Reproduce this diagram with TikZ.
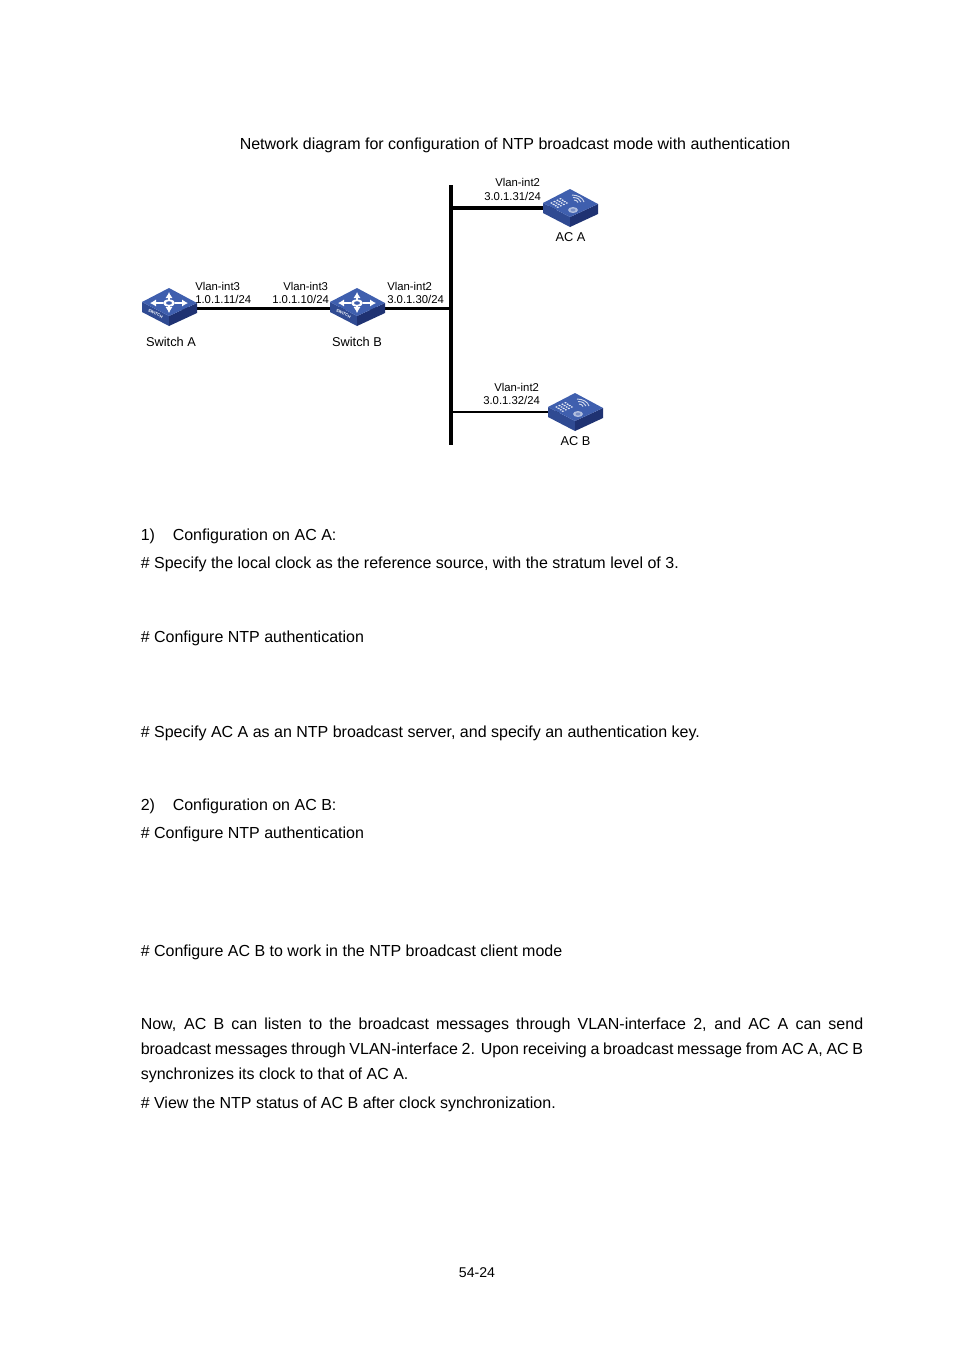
\documentclass[tikz,border=0pt]{standalone}
\usepackage{fontspec}
\setmainfont{Liberation Sans}
\usetikzlibrary{arrows.meta}
\definecolor{devtop}{HTML}{3F5FAE}
\definecolor{devleft}{HTML}{2F4A92}
\definecolor{devright}{HTML}{1F3272}
\tikzset{
  wire/.style={line width=2.4pt, black},
  thinwire/.style={line width=1.7pt, black},
  devbox/.style={minimum width=54pt, minimum height=14pt, inner sep=0pt},
  ifacelabel/.style={anchor=base west, inner sep=0pt, font=\fontsize{8.5pt}{10pt}\selectfont, align=left},
  devlabel/.style={anchor=base, inner sep=0pt, font=\fontsize{9.6pt}{11pt}\selectfont},
  bodytext/.style={anchor=base west, inner sep=0pt, font=\fontsize{12pt}{14pt}\selectfont},
  pics/devbase/.style={code={
    \fill[devleft] (-27,-5) -- (0,9) -- (0,19) -- (-27,5) -- cycle;
    \fill[devright] (0,9) -- (28,-4) -- (28,6) -- (0,19) -- cycle;
    \fill[devtop] (-27,-5) -- (0,-19) -- (28,-4) -- (0,9) -- cycle;
  }},
  pics/switchicon/.style={code={
    \pic {devbase};
    \foreach \tipx/\tipy in {0/-15, 0/6, -19/-4, 19/-4} {
      \draw[white, line width=1.3pt, -{Latex[length=4.5pt,width=5.5pt]}] (0.3*\tipx,{-4+0.3*(\tipy+4)}) -- (\tipx,\tipy);
    }
    \fill[white] (0,-4) ellipse (6 and 3.6);
    \fill[devtop] (0,-4) ellipse (3 and 1.8);
    \node[rotate=-27, inner sep=0pt, text=white, font=\bfseries\fontsize{3pt}{3pt}\selectfont] (tag) at (-13.5,6.5) {SWITCH};
  }},
  pics/acicon/.style={code={
    \pic {devbase};
    \foreach \i in {0,...,3} {
      \foreach \j in {0,...,3} {
        \fill[white!85!devtop] ({-18.5+\i*3+\j*2.1},{-5-\i*1.4+\j*1.4}) ellipse (1.3 and .8);
      }
    }
    \fill[white!60!devtop] (3,2) ellipse (5 and 3);
    \fill[white!30!devtop] (3,2) ellipse (2.5 and 1.5);
    \draw[white!75!devtop, line width=.7pt] (2,-13) .. controls (8,-13) and (13,-10) .. (14,-6);
    \draw[white!75!devtop, line width=.7pt] (3,-10.5) .. controls (7,-10.5) and (10,-9) .. (11,-6);
    \draw[white!75!devtop, line width=.7pt] (4,-8) .. controls (6,-8) and (7.5,-7) .. (8,-5.5);
  }},
}
\begin{document}
\begin{tikzpicture}[x=0.75pt, y=-0.75pt]
  \useasboundingbox (0,0) rectangle (954,1350);
  % title
  \node[bodytext] (title) at (239.5,149) {Network diagram for configuration of NTP broadcast mode with authentication};
  % devices
  \node[devbox] (swa) at (169,307) {};
  \node[devbox] (swb) at (357,307) {};
  \node[devbox] (aca) at (570,208) {};
  \node[devbox] (acb) at (575,412) {};
  % bus and links
  \coordinate (bustop) at (451,185);
  \coordinate (busbot) at (451,445);
  \coordinate (busa) at (451,208);
  \coordinate (busb) at (451,412);
  \coordinate (busc) at (451,308.5);
  \coordinate (swaport) at (169,308.5);
  \coordinate (swbport) at (357,308.5);
  \draw[wire] (bustop) -- (busbot);
  \draw[wire] (swaport) -- (swbport);
  \draw[wire] (swbport) -- (busc);
  \draw[wire] (busa) -- (aca.center);
  \draw[thinwire] (busb) -- (acb.center);
  \pic (swaicon) at (swa) {switchicon};
  \pic (swbicon) at (swb) {switchicon};
  \pic (acaicon) at (aca) {acicon};
  \pic (acbicon) at (acb) {acicon};
  % device names
  \node[devlabel] (swaname) at (171,346) {Switch A};
  \node[devlabel] (swbname) at (357,346) {Switch B};
  \node[devlabel] (acaname) at (570.5,241) {AC A};
  \node[devlabel] (acbname) at (575.5,445) {AC B};
  % interface labels
  \node[ifacelabel] (ifa1) at (195,290) {Vlan-int3};
  \node[ifacelabel] (ifa2) at (195,303) {1.0.1.11/24};
  \node[ifacelabel] (ifb1) at (283,290) {Vlan-int3};
  \node[ifacelabel] (ifb2) at (272,303) {1.0.1.10/24};
  \node[ifacelabel] (ifc1) at (387,290) {Vlan-int2};
  \node[ifacelabel] (ifc2) at (387,303) {3.0.1.30/24};
  \node[ifacelabel] (ifd1) at (495,186) {Vlan-int2};
  \node[ifacelabel] (ifd2) at (484,200) {3.0.1.31/24};
  \node[ifacelabel] (ife1) at (494,391) {Vlan-int2};
  \node[ifacelabel] (ife2) at (483,404) {3.0.1.32/24};
  % body text
  \node[bodytext] (cfga) at (140.5,540) {1)};
  \node[bodytext] (cfgat) at (172.5,540) {Configuration on AC A:};
  \node[bodytext] (line1) at (140.5,568) {\# Specify the local clock as the reference source, with the stratum level of 3.};
  \node[bodytext] (line2) at (140.5,642) {\# Configure NTP authentication};
  \node[bodytext] (line3) at (140.5,737) {\# Specify AC A as an NTP broadcast server, and specify an authentication key.};
  \node[bodytext] (cfgb) at (140.5,810) {2)};
  \node[bodytext] (cfgbt) at (172.5,810) {Configuration on AC B:};
  \node[bodytext] (line4) at (140.5,838) {\# Configure NTP authentication};
  \node[bodytext] (line5) at (140.5,956) {\# Configure AC B to work in the NTP broadcast client mode};
  \node[bodytext, text width=722.5pt*0.75, align=justify, font=\fontsize{12pt}{18.6pt}\selectfont] (para) at (140.5,1029.5) {Now, AC B can listen to the broadcast messages through VLAN-interface 2, and AC A can send\linebreak broadcast messages through VLAN-interface 2. Upon receiving a broadcast message from AC A, AC B\linebreak synchronizes its clock to that of AC A.};
  \node[bodytext] (line6) at (140.5,1108) {\# View the NTP status of AC B after clock synchronization.};
  \node[anchor=base, inner sep=0pt, font=\fontsize{10.6pt}{12pt}\selectfont] (pageno) at (477,1277) {54-24};
\end{tikzpicture}
\end{document}
